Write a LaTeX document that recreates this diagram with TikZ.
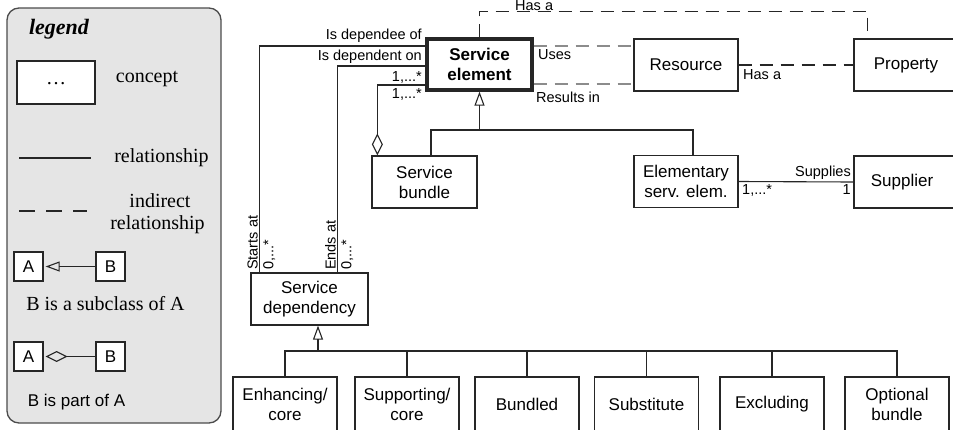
\documentclass[tikz,border=0pt]{standalone}
\usepackage{fontspec}
\setmainfont{Liberation Sans}
\newfontfamily\legendserif{Liberation Serif}
\usetikzlibrary{arrows.meta}
\begin{document}
\begin{tikzpicture}[x=1pt,y=-1pt,
  concept/.style={draw=black!85, fill=white, line width=1.3pt, inner sep=0pt,
    align=center, minimum width=104pt, minimum height=52pt,
    font=\fontsize{17}{20}\selectfont},
  keyconcept/.style={concept, line width=3.2pt, font=\fontsize{17}{20}\selectfont\bfseries},
  tinybox/.style={draw=black!85, fill=white, line width=1.3pt, inner sep=0pt,
    minimum width=29pt, minimum height=29pt, font=\fontsize{17}{20}\selectfont},
  lab/.style={inner sep=1pt, font=\fontsize{14.5}{16}\selectfont},
  legtext/.style={inner sep=0pt, font=\legendserif\fontsize{20}{22}\selectfont},
  rel/.style={draw=black!85, line width=1.1pt},
  indirect/.style={rel, dash pattern=on 13pt off 8pt},
  softindirect/.style={indirect, draw=black!45},
  isa/.style={rel, -{Triangle[open,length=14pt,width=10pt,line width=1.1pt]}},
  partof/.style={rel, -{Diamond[open,length=22pt,width=11pt,line width=1.1pt]}},
]
\useasboundingbox (0,0) rectangle (953,429);
\clip (0,0) rectangle (953,429);

% ---------------- legend panel ----------------
\draw[draw=black!70, fill=black!10, line width=1.3pt, rounded corners=12pt]
  (7,8) rectangle (221,423);
\node[inner sep=0pt, font=\legendserif\fontsize{22}{24}\selectfont\bfseries\itshape]
  (legtitle) at (59,29) {legend};
\node[tinybox, minimum width=78pt, minimum height=43pt, font=\legendserif\fontsize{20}{22}\selectfont]
  (legconcept) at (56,82.5) {\raisebox{-4pt}{\ldots}};
\node[legtext] (legconcepttxt) at (147,79) {concept};
\coordinate (legrelA) at (19,158);
\coordinate (legrelB) at (91,158);
\draw[rel] (legrelA) -- (legrelB);
\node[legtext] (legreltxt) at (161.5,158) {relationship};
\coordinate (legindA) at (19,211);
\coordinate (legindB) at (87,211);
\draw[rel, dash pattern=on 16pt off 11pt] (legindA) -- (legindB);
\node[legtext] (legindtxt1) at (160,201) {indirect};
\node[legtext] (legindtxt2) at (157.5,225) {relationship};
\node[tinybox] (legA1) at (28.5,266.5) {A};
\node[tinybox] (legB1) at (110.5,266.5) {B};
\draw[isa] (legB1.west) -- ([xshift=2pt]legA1.east);
\node[legtext] (legsubtxt) at (105.5,304) {B is a subclass of A};
\node[tinybox] (legA2) at (28.5,356.5) {A};
\node[tinybox] (legB2) at (110.5,356.5) {B};
\draw[partof] (legB2.west) -- ([xshift=2pt]legA2.east);
\node[inner sep=0pt, font=\fontsize{17}{20}\selectfont] (legparttxt) at (76.5,402) {B is part of A};

% ---------------- concepts ----------------
\node[keyconcept, minimum width=105pt, minimum height=51pt] (se) at (479.5,64.5) {Service\\element};
\node[concept] (res) at (686,65) {Resource};
\node[concept] (prop) at (906,65) {Property};
\node[concept, minimum width=105pt] (bundle) at (424.5,182) {Service\\bundle};
\node[concept] (elem) at (686,181.5) {Elementary\\serv. elem.};
\node[concept] (supp) at (906,182) {};
\node[font=\fontsize{17}{20}\selectfont, inner sep=0pt] (supptxt) at (902,182) {Supplier};
\node[concept, minimum width=117pt] (dep) at (309.5,299) {Service\\dependency};

\node[concept, minimum height=54pt] (enh) at (285,404) {Enhancing/\\core};
\node[concept, minimum height=54pt] (sup) at (407,404) {Supporting/\\core};
\node[concept, minimum height=54pt] (bun) at (527,404) {Bundled};
\node[concept, minimum height=54pt] (sub) at (646.5,404) {Substitute};
\node[concept, minimum height=54pt] (exc) at (772,404) {Excluding};
\node[concept, minimum height=54pt] (opt) at (897,404) {Optional\\bundle};

% ---------------- indirect relationships ----------------
\draw[indirect] (se.north) -- ++(0,-26) -| ([xshift=14pt]prop.north west);
\node[lab, anchor=west] (hasa1) at (514,6) {Has a};
\draw[softindirect] (se.east |- 0,46) -- (res.west |- 0,46);
\draw[softindirect] (se.east |- 0,84) -- (res.west |- 0,84);
\node[lab, anchor=west] (uses) at (537,55) {Uses};
\node[lab, anchor=west] (results) at (535,97) {Results in};
\draw[indirect] (res.east) -- (prop.west);
\node[lab, anchor=west] (hasa2) at (742,75) {Has a};

% ---------------- dependencies between service elements ----------------
\draw[rel] (se.west |- 0,46) -| ([xshift=9pt]dep.north west);
\draw[rel] (se.west |- 0,66) -| ([xshift=87pt]dep.north west);
\node[lab, anchor=east] (dependee) at (423,36) {Is dependee of};
\node[lab, anchor=east] (dependent) at (423,57) {Is dependent on};
\node[lab, anchor=south west, rotate=90] (starts) at (259,271) {Starts at};
\node[lab, anchor=north west, rotate=90] (startsm) at (262,271) {0,...*};
\node[lab, anchor=south west, rotate=90] (ends) at (337,271) {Ends at};
\node[lab, anchor=north west, rotate=90] (endsm) at (340,271) {0,...*};

% ---------------- bundle aggregation ----------------
\draw[partof] (se.west |- 0,85) -| ([xshift=6pt]bundle.north west);
\node[lab, anchor=east] (mult1) at (423,77) {1,...*};
\node[lab, anchor=east] (mult2) at (423,94) {1,...*};

% ---------------- subclasses of service element ----------------
\coordinate (segen) at (se.south |- 0,130);
\draw[rel] ([xshift=6.5pt]bundle.north) |- (segen) -| ([xshift=7pt]elem.north);
\draw[isa] (segen) -- (se.south);

% ---------------- supplier ----------------
\draw[rel] (elem.east) -- (supp.west);
\node[lab, anchor=south east] (supplies) at (852,181) {Supplies};
\node[lab, anchor=north west] (supmA) at (741,183) {1,...*};
\node[lab, anchor=north east] (supmB) at (852,183) {1};

% ---------------- subclasses of service dependency ----------------
\coordinate (depgen) at ([xshift=8.5pt]dep.south |- 0,351);
\draw[isa] (depgen) -- ([xshift=8.5pt]dep.south);
\draw[rel] (enh.north) |- (opt.north |- depgen) -- (opt.north);
\foreach \n in {sup,bun,sub,exc}
  \draw[rel] (\n.north) -- (\n.north |- depgen);
\end{tikzpicture}
\end{document}
